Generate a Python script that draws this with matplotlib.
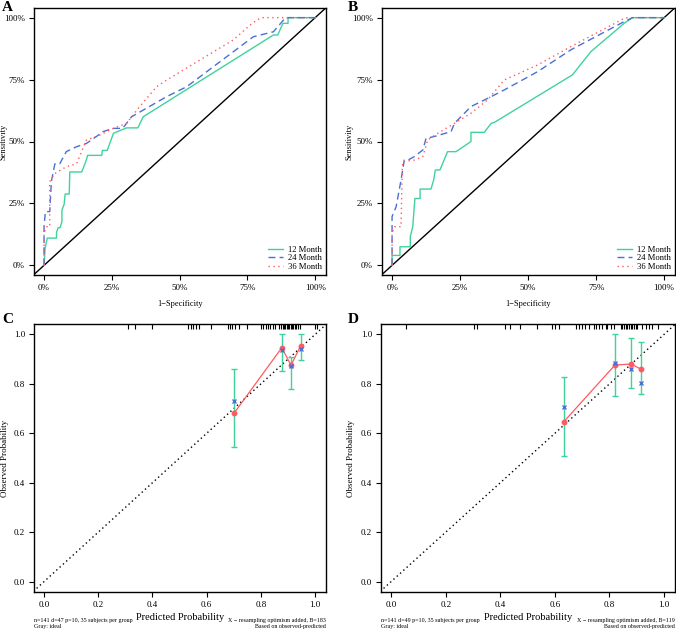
import numpy as np
import matplotlib
matplotlib.use("Agg")
import matplotlib.pyplot as plt

plt.rcParams['font.family'] = ['Liberation Serif', 'DejaVu Serif']

# ---- ROC data, panel A ----
a12_x = [0, 0.004, 0.012, 0.046, 0.046, 0.052, 0.059, 0.066, 0.066, 0.074, 0.078, 0.084, 0.093, 0.095, 0.139, 0.154, 0.161, 0.161, 0.213, 0.215, 0.233, 0.256, 0.304, 0.346, 0.366, 0.846, 0.862, 0.881, 0.90, 0.90, 1.0]
a12_y = [0, 0.07, 0.11, 0.11, 0.133, 0.152, 0.152, 0.176, 0.223, 0.246, 0.288, 0.288, 0.288, 0.377, 0.377, 0.419, 0.444, 0.444, 0.444, 0.464, 0.464, 0.533, 0.555, 0.555, 0.60, 0.93, 0.93, 0.977, 0.977, 1.0, 1.0]
a24_x = [0, 0, 0.005, 0.021, 0.027, 0.04, 0.058, 0.082, 0.12, 0.156, 0.193, 0.218, 0.255, 0.29, 0.323, 0.366, 0.452, 0.526, 0.772, 0.846, 0.883, 0.889, 1.0]
a24_y = [0, 0.156, 0.217, 0.217, 0.338, 0.41, 0.41, 0.459, 0.479, 0.492, 0.52, 0.54, 0.553, 0.553, 0.60, 0.627, 0.681, 0.721, 0.923, 0.943, 0.99, 1.0, 1.0]
a36_x = [0, 0, 0.009, 0.021, 0.021, 0.04, 0.082, 0.12, 0.156, 0.206, 0.255, 0.304, 0.353, 0.415, 0.452, 0.575, 0.698, 0.76, 0.784, 0.803, 1.0]
a36_y = [0, 0.13, 0.156, 0.156, 0.338, 0.371, 0.398, 0.41, 0.506, 0.526, 0.553, 0.573, 0.641, 0.721, 0.748, 0.829, 0.91, 0.97, 0.99, 1.0, 1.0]

# ---- ROC data, panel B ----
b12_x = [0, 0, 0.029, 0.029, 0.067, 0.067, 0.076, 0.084, 0.103, 0.103, 0.143, 0.153, 0.159, 0.176, 0.204, 0.235, 0.29, 0.29, 0.339, 0.364, 0.376, 0.663, 0.731, 0.853, 0.884, 1.0]
b12_y = [0, 0.04, 0.04, 0.075, 0.075, 0.116, 0.156, 0.27, 0.27, 0.308, 0.308, 0.345, 0.385, 0.385, 0.459, 0.459, 0.50, 0.537, 0.537, 0.573, 0.577, 0.769, 0.863, 0.977, 1.0, 1.0]
b24_x = [0, 0, 0.015, 0.033, 0.045, 0.058, 0.082, 0.113, 0.125, 0.155, 0.217, 0.229, 0.29, 0.364, 0.412, 0.535, 0.657, 0.853, 0.884, 1.0]
b24_y = [0, 0.197, 0.237, 0.345, 0.425, 0.425, 0.439, 0.466, 0.513, 0.52, 0.54, 0.573, 0.641, 0.681, 0.708, 0.782, 0.87, 0.984, 1.0, 1.0]
b36_x = [0, 0, 0.009, 0.033, 0.037, 0.039, 0.082, 0.113, 0.131, 0.168, 0.229, 0.29, 0.351, 0.412, 0.535, 0.657, 0.853, 0.865, 1.0]
b36_y = [0, 0.129, 0.156, 0.156, 0.371, 0.419, 0.425, 0.439, 0.506, 0.533, 0.573, 0.614, 0.668, 0.748, 0.809, 0.883, 0.997, 1.0, 1.0]

# ---- calibration data, panel C ----
c_pred = [0.702, 0.877, 0.911, 0.947]
c_obs = [0.683, 0.946, 0.875, 0.955]
c_corr = [0.732, 0.937, 0.872, 0.941]
c_lo = [0.544, 0.852, 0.779, 0.896]
c_hi = [0.858, 1.0, 0.91, 1.0]
c_rug = [0.31, 0.335, 0.40, 0.532, 0.541, 0.55, 0.56, 0.571, 0.614, 0.677, 0.686, 0.694, 0.704, 0.719, 0.747, 0.8, 0.809, 0.818, 0.825, 0.834, 0.843, 0.852, 0.868, 0.874, 0.881, 0.885, 0.89, 0.895, 0.9, 0.905, 0.91, 0.915, 0.92, 0.925, 0.93, 0.936, 0.945, 1.0, 1.006]

# ---- calibration data, panel D ----
d_pred = [0.633, 0.82, 0.88, 0.917]
d_obs = [0.647, 0.876, 0.88, 0.858]
d_corr = [0.708, 0.883, 0.858, 0.805]
d_lo = [0.508, 0.751, 0.784, 0.759]
d_hi = [0.829, 1.0, 0.984, 0.970]
d_rug = [0.055, 0.302, 0.314, 0.418, 0.437, 0.471, 0.535, 0.59, 0.602, 0.614, 0.679, 0.688, 0.7, 0.712, 0.724, 0.743, 0.752, 0.761, 0.773, 0.786, 0.792, 0.804, 0.816, 0.841, 0.847, 0.853, 0.859, 0.865, 0.871, 0.878, 0.884, 0.89, 0.896, 0.902, 0.92, 0.932, 0.945, 0.957, 0.976]

c_notes = ["n=141 d=47 p=10, 35 subjects per group\nGray: ideal",
           "X \u2212 resampling optimism added, B=183\nBased on observed-predicted"]
d_notes = ["n=141 d=49 p=10, 35 subjects per group\nGray: ideal",
           "X \u2212 resampling optimism added, B=119\nBased on observed-predicted"]

GREEN = '#3fd39b'
BLUE = '#4a6fd6'
RED = '#ff5a5f'
W, H = 676, 631

fig = plt.figure(figsize=(W / 100, H / 100), dpi=100)


def box(l, r, t, b):
    ax = fig.add_axes([l / W, 1 - b / H, (r - l) / W, (b - t) / H])
    ax.px_left, ax.px_width = l, r - l
    return ax


def style(ax):
    for s in ax.spines.values():
        s.set_linewidth(1.0)
    ax.tick_params(direction='out', length=3.5, width=0.8, labelsize=6.5, pad=3)


def ylabel_at(ax, text, size, xpx):
    # xpx is the figure pixel column of the label's right edge
    ax.set_ylabel(text, fontsize=size)
    ax.yaxis.set_label_coords((xpx - ax.px_left) / ax.px_width, 0.5)


def roc(ax, curves, letter, lx, ylx):
    ax.plot([-0.1, 1.1], [-0.1, 1.1], color='black', lw=1.0)
    (x12, y12), (x24, y24), (x36, y36) = curves
    ax.plot(x12, y12, color=GREEN, lw=1.0, label='12 Month')
    ax.plot(x24, y24, color=BLUE, lw=1.0, ls=(0, (5, 3)), label='24 Month')
    ax.plot(x36, y36, color=RED, lw=1.0, ls=(0, (1, 2.5)), label='36 Month')
    ax.set_xlim(-0.037, 1.04)
    ax.set_ylim(-0.039, 1.039)
    ticks = [0, 0.25, 0.5, 0.75, 1.0]
    labs = ['0%', '25%', '50%', '75%', '100%']
    ax.set_xticks(ticks, labs)
    ax.set_yticks(ticks, labs)
    ax.set_xlabel('1\u2212Specificity', fontsize=6, labelpad=6)
    ylabel_at(ax, 'Sensitivity', 6, ylx)
    style(ax)
    ax.legend(loc='lower right', frameon=False, fontsize=6.2, handlelength=1.7,
              borderaxespad=0.15, borderpad=0.3, labelspacing=0.08, handletextpad=0.6)
    fig.text(lx / W, 1 - 1 / H, letter, fontsize=11, fontweight='bold', va='top')


def calib(ax, pred, obs, corr, lo, hi, rug, notes, letter, lx, ylx):
    ax.plot([-0.1, 1.1], [-0.1, 1.1], color='black', lw=1.0, ls=(0, (1, 2.2)))
    ax.vlines(rug, 0.98, 1.0, transform=ax.get_xaxis_transform(), color='black', lw=0.8)
    yerr = [np.array(obs) - np.array(lo), np.array(hi) - np.array(obs)]
    ax.errorbar(pred, obs, yerr=yerr, fmt='none', ecolor=GREEN, elinewidth=1.0,
                capsize=2.5, capthick=1.0)
    ax.plot(pred, obs, color=RED, lw=0.9, marker='o', ms=3.2, mec=RED, mfc=RED)
    ax.plot(pred, corr, ls='none', marker='x', color=BLUE, ms=3.4, mew=1.0)
    ax.set_xlim(-0.037, 1.04)
    ax.set_ylim(-0.042, 1.042)
    ax.set_xticks(np.arange(0, 1.01, 0.2), [f'{v:.1f}' for v in np.arange(0, 1.01, 0.2)])
    ax.set_yticks(np.arange(0, 1.01, 0.2), [f'{v:.1f}' for v in np.arange(0, 1.01, 0.2)])
    ax.set_xlabel('Predicted Probability', fontsize=7.5, labelpad=3)
    ylabel_at(ax, 'Observed Probability', 6.5, ylx)
    style(ax)
    ax.text(0.0, -0.097, notes[0], transform=ax.transAxes, fontsize=4.3,
            va='top', ha='left', linespacing=1.3)
    ax.text(1.0, -0.097, notes[1], transform=ax.transAxes, fontsize=4.3,
            va='top', ha='right', linespacing=1.3, multialignment='right')
    fig.text(lx / W, 1 - 313 / H, letter, fontsize=11, fontweight='bold', va='top')


axA = box(34, 326, 8, 275)
roc(axA, [(a12_x, a12_y), (a24_x, a24_y), (a36_x, a36_y)], 'A', 2, 8)
axB = box(382, 675, 8, 275)
roc(axB, [(b12_x, b12_y), (b24_x, b24_y), (b36_x, b36_y)], 'B', 348, 353)

axC = box(34, 326, 324, 592)
calib(axC, c_pred, c_obs, c_corr, c_lo, c_hi, c_rug, c_notes, 'C', 2, 9)
axD = box(381, 675, 324, 592)
calib(axD, d_pred, d_obs, d_corr, d_lo, d_hi, d_rug, d_notes, 'D', 348, 355)

fig.savefig('out.png', dpi=100)
